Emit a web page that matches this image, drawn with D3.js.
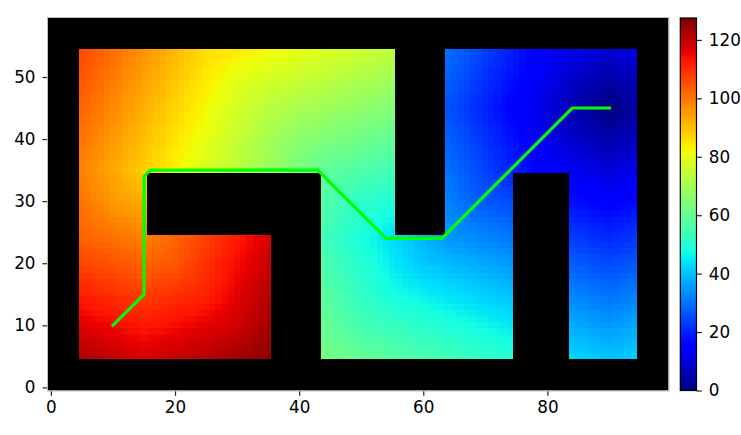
<!DOCTYPE html>
<html><head><meta charset="utf-8">
<style>html,body{margin:0;padding:0;background:#fff}svg{display:block}
text{font-family:"DejaVu Sans",sans-serif;font-size:16.8px;fill:#000}</style>
<script src="https://cdn.jsdelivr.net/npm/d3@7"></script></head><body>
<script>
// Field values at sample columns/rows; null = obstacle (black)
const sampleX=[5,10,15,20,25,30,35,40,44,50,55,60,64,69,74,79,84,87,90,95];
const sampleY=[5,10,15,20,24,30,35,40,45,50,54];
const row05=[121.9,119.8,117.7,119.4,121.4,123.5,125.6,null,62.5,60,58,55.9,54.2,52.2,50.1,null,42.5,41.2,40,42.1];
const row10=[116.9,114.8,112.7,114.4,116.4,118.5,123.5,null,60.5,55,53,50.9,49.2,47.2,45.1,null,37.5,36.2,35,37.1];
const row15=[111.9,109.8,107.7,109.4,111.4,116.4,121.4,null,58.4,52.4,48,45.9,44.2,42.2,40.1,null,32.5,31.2,30,32.1];
const row20=[106.9,104.8,102.7,104.4,109.4,114.4,119.4,null,56.3,50.3,45.3,40.9,39.2,37.2,35.1,null,27.5,26.2,25,27.1];
const row24=[102.9,100.8,98.7,102.7,107.7,112.7,117.7,null,54.7,48.7,43.7,38.7,35.2,33.2,31.1,null,23.5,22.2,21,23.1];
const row30=[100.4,95.4,92.7,null,null,null,null,null,57.2,51.8,49.7,null,32.2,27.2,25.1,null,17.5,16.2,15,17.1];
const row35=[98.3,93.3,88.3,83.3,78.3,73.3,68.3,63.3,59.3,56.8,54.7,null,30.1,25.1,20.1,15.1,12.5,11.2,10,12.1];
const row40=[100.3,95.3,90.3,85.3,80.3,75.3,70.3,65.9,64.3,61.8,59.7,null,28.1,23.1,18.1,13.1,8.1,6.2,5,7.1];
const row45=[102.4,97.4,92.4,87.4,82.4,77.4,73,70.9,69.3,66.8,64.7,null,26,21,16,11,6,3,0,5];
const row50=[104.5,99.5,94.5,89.5,84.5,80.1,78,75.9,74.3,71.8,69.7,null,28.1,23.1,18.1,13.1,8.1,6.2,5,7.1];
const row54=[106.1,101.1,96.1,91.1,86.1,84.1,82,79.9,78.3,75.8,73.7,null,29.7,24.7,19.7,14.7,11.5,10.2,9,11.1];
const fieldRows=[row05,row10,row15,row20,row24,row30,row35,row40,row45,row50,row54];
const pathX=[10,15,15,16,43,54,63,84,90];
const pathY=[10,15,34,35,35,24,24,45,45];
const xTicks=[0,20,40,60,80];
const yTicks=[0,10,20,30,40,50];
const barTicks=[0,20,40,60,80,100,120];
const colorMax=127.5;

const W=741,H=435;
const x=d3.scaleLinear().domain([-0.5,99.5]).range([47.8,668.4]);
const y=d3.scaleLinear().domain([-0.5,59.5]).range([390.5,18]);
const jetR=d3.scaleLinear().domain([0,.35,.66,.89,1]).range([0,0,1,1,.5]).clamp(true);
const jetG=d3.scaleLinear().domain([0,.125,.375,.64,.91,1]).range([0,0,1,1,0,0]).clamp(true);
const jetB=d3.scaleLinear().domain([0,.11,.34,.65,1]).range([.5,1,1,0,0]).clamp(true);
const color=d3.scaleLinear().domain([0,colorMax]).range([0,1]);
const jet=v=>{const t=color(v);return d3.rgb(jetR(t)*255,jetG(t)*255,jetB(t)*255).formatRgb();};

const svg=d3.select("body").append("svg").attr("width",W).attr("height",H);
svg.append("rect").attr("x",x(-0.5)).attr("y",y(59.5)).attr("width",x(99.5)-x(-0.5)).attr("height",y(-0.5)-y(59.5)).attr("fill","#000");

// Shade the unit cells of the image between the sampled values
function cellValue(i,j){
  const a=Math.min(d3.bisectRight(sampleX,i)-1,sampleX.length-2), b=Math.min(d3.bisectRight(sampleY,j)-1,sampleY.length-2);
  const tx=(i-sampleX[a])/(sampleX[a+1]-sampleX[a]), ty=(j-sampleY[b])/(sampleY[b+1]-sampleY[b]);
  const c=[[a,b,(1-tx)*(1-ty)],[a+1,b,tx*(1-ty)],[a,b+1,(1-tx)*ty],[a+1,b+1,tx*ty]];
  let s=0;
  for(const [p,q,w] of c){ if(w>0){const v=fieldRows[q][p]; if(v===null) return null; s+=w*v;} }
  return s;
}
const cells=[];
for(let j=5;j<=54;j++)for(let i=5;i<=94;i++){const v=cellValue(i,j); if(v!==null)cells.push({i,j,v});}
svg.append("g").attr("shape-rendering","crispEdges").selectAll("rect").data(cells).join("rect")
  .attr("x",d=>x(d.i-.5)).attr("y",d=>y(d.j+.5))
  .attr("width",d=>x(d.i+.5)-x(d.i-.5)).attr("height",d=>y(d.j-.5)-y(d.j+.5))
  .attr("fill",d=>jet(d.v));

svg.append("path").datum(pathX.map((px,k)=>[px,pathY[k]]))
  .attr("d",d3.line().x(d=>x(d[0])).y(d=>y(d[1])))
  .attr("fill","none").attr("stroke","#00ff00").attr("stroke-width",3.2).attr("stroke-linecap","square").attr("stroke-linejoin","round");

function style(g){g.selectAll(".domain").remove();
  g.selectAll(".tick line").attr("stroke","#222").attr("stroke-width",1.2);
  g.selectAll("text").attr("fill","#000");}
svg.append("g").attr("transform",`translate(0,${y(-0.5)})`)
  .call(d3.axisBottom(x).tickValues(xTicks).tickSize(5.3).tickPadding(5.5).tickSizeOuter(0)).call(style);
svg.append("g").attr("transform",`translate(${x(-0.5)},0)`)
  .call(d3.axisLeft(y).tickValues(yTicks).tickSize(5.3).tickPadding(7).tickSizeOuter(0)).call(style);
// Axes frame reads as a thin grey edge around the black image
svg.append("rect").attr("x",47.5).attr("y",17.5).attr("width",621.5).attr("height",373.5)
  .attr("fill","none").attr("stroke","#bbb").attr("stroke-width",1);

// Colour bar
const barL=680.3,barR=696.5;
const cy=d3.scaleLinear().domain([0,colorMax]).range([390.5,18]);
const levels=d3.range(256).map(k=>k/256*colorMax);
svg.append("g").attr("shape-rendering","crispEdges").selectAll("rect").data(levels).join("rect")
  .attr("x",barL).attr("width",barR-barL)
  .attr("y",d=>cy(d+colorMax/256)).attr("height",d=>cy(d)-cy(d+colorMax/256)+.5)
  .attr("fill",d=>jet(d+colorMax/512));
svg.append("g").attr("transform",`translate(${barR},0)`)
  .call(d3.axisRight(cy).tickValues(barTicks).tickSize(5.3).tickPadding(7).tickSizeOuter(0)).call(style);
svg.append("rect").attr("x",barL).attr("y",18).attr("width",barR-barL).attr("height",372.5)
  .attr("fill","none").attr("stroke","#000").attr("stroke-width",1.2);
svg.selectAll("text").style("font-family",'"DejaVu Sans",sans-serif').style("font-size","16.8px");
</script></body></html>
